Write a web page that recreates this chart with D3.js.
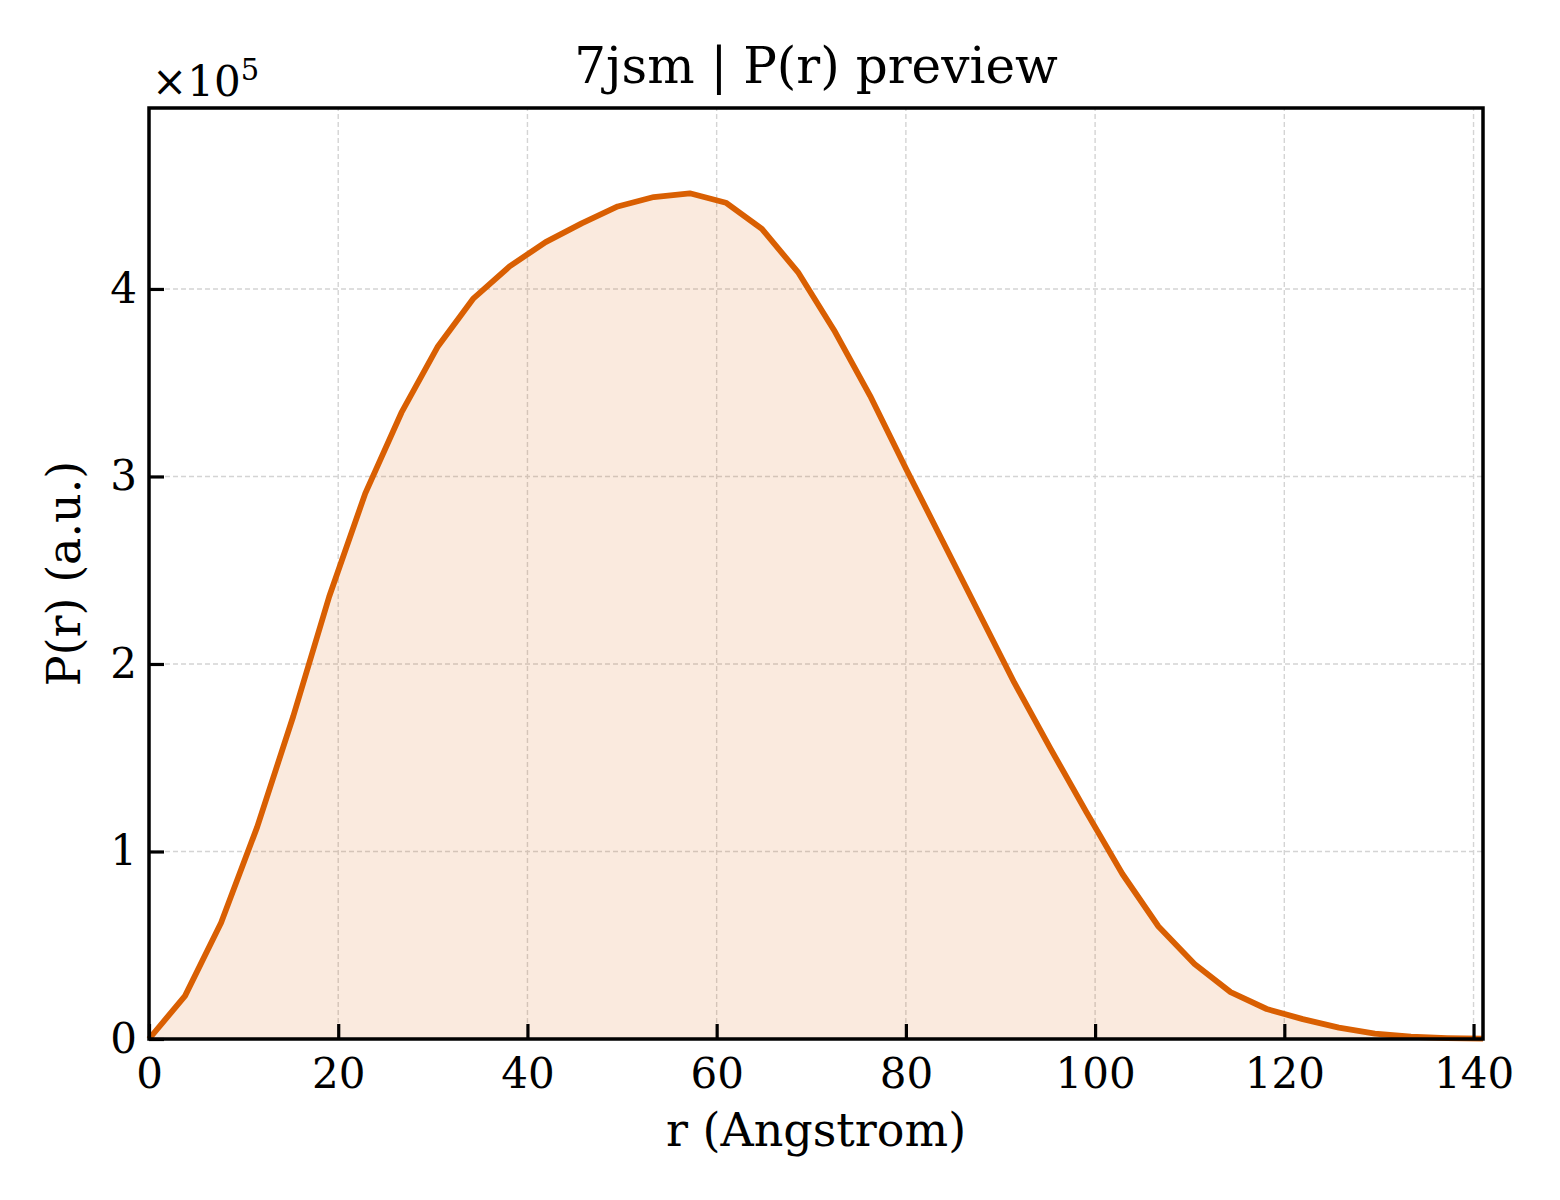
<!DOCTYPE html>
<html>
<head>
<meta charset="utf-8">
<script src="https://cdn.jsdelivr.net/npm/d3@7"></script>
<style>
  body { margin: 0; background: #fff; }
  svg { display: block; font-family: "DejaVu Serif", serif; }
</style>
</head>
<body>
<svg id="chart" width="1560" height="1200"></svg>
<script>
// P(r) curve (r in Angstrom, P in units of 1e5)
const rValues = [0, 3.81, 7.62, 11.43, 15.24, 19.05, 22.86, 26.68, 30.49, 34.30,
  38.11, 41.92, 45.73, 49.54, 53.35, 57.16, 60.97, 64.78, 68.59, 72.41,
  76.22, 80.03, 83.84, 87.65, 91.46, 95.27, 99.08, 102.89, 106.70, 110.51,
  114.32, 118.14, 121.95, 125.76, 129.57, 133.38, 137.19, 141.0];
const pValues = [0, 0.23, 0.62, 1.13, 1.72, 2.36, 2.91, 3.34, 3.69, 3.95,
  4.12, 4.25, 4.35, 4.44, 4.49, 4.51, 4.46, 4.32, 4.09, 3.78,
  3.43, 3.04, 2.66, 2.28, 1.90, 1.55, 1.21, 0.88, 0.60, 0.40,
  0.25, 0.16, 0.106, 0.061, 0.029, 0.012, 0.005, 0.002];
const xTicks = [0, 20, 40, 60, 80, 100, 120, 140];
const yTicks = [0, 1, 2, 3, 4];

const d3 = window.d3;
const svg = d3.select("#chart");
const W = 1560, H = 1200;
const margin = { top: 108, right: 77, bottom: 161, left: 149 };
const color = "#d95f02";

const points = rValues.map((r, i) => ({ r, p: pValues[i] }));

const x = d3.scaleLinear().domain([0, 141]).range([margin.left, W - margin.right]);
const y = d3.scaleLinear().domain([0, 4.965]).range([H - margin.bottom, margin.top]);

// grid
const grid = svg.append("g").attr("stroke", "#d4d4d4").attr("stroke-width", 1.4)
  .attr("stroke-dasharray", "5,3");
grid.selectAll(".gx").data(xTicks.filter(d => d > 0)).enter().append("line")
  .attr("x1", d => x(d)).attr("x2", d => x(d))
  .attr("y1", y.range()[0]).attr("y2", y.range()[1]);
grid.selectAll(".gy").data(yTicks.filter(d => d > 0)).enter().append("line")
  .attr("x1", x.range()[0]).attr("x2", x.range()[1])
  .attr("y1", d => y(d)).attr("y2", d => y(d));

// fill + line
svg.append("path").datum(points)
  .attr("fill", color).attr("fill-opacity", 0.13)
  .attr("d", d3.area().x(d => x(d.r)).y0(y(0)).y1(d => y(d.p)));

svg.append("path").datum(points)
  .attr("fill", "none").attr("stroke", color).attr("stroke-width", 5.8)
  .attr("stroke-linejoin", "round")
  .attr("d", d3.line().x(d => x(d.r)).y(d => y(d.p)));

// axes (ticks point inward)
const fontSize = 42;
const xAxis = svg.append("g")
  .attr("transform", `translate(0,${H - margin.bottom})`)
  .call(d3.axisBottom(x).tickValues(xTicks).tickSizeInner(-15).tickSizeOuter(0).tickPadding(19));
const yAxis = svg.append("g")
  .attr("transform", `translate(${margin.left},0)`)
  .call(d3.axisLeft(y).tickValues(yTicks).tickFormat(d3.format("d")).tickSizeInner(-15).tickSizeOuter(0).tickPadding(12));

[xAxis, yAxis].forEach(a => {
  a.select(".domain").remove();
  a.selectAll(".tick line").attr("stroke", "#000").attr("stroke-width", 3.2);
  a.selectAll(".tick text").attr("fill", "#000")
    .style("font-size", fontSize + "px").style("font-family", "DejaVu Serif");
});

// frame
svg.append("rect")
  .attr("x", margin.left).attr("y", margin.top)
  .attr("width", W - margin.left - margin.right)
  .attr("height", H - margin.top - margin.bottom)
  .attr("fill", "none").attr("stroke", "#000").attr("stroke-width", 3.5);

// offset text
const off = svg.append("text").attr("x", 152).attr("y", 96)
  .style("font-size", fontSize + "px");
off.append("tspan").text("×10");
off.append("tspan").attr("dy", -16).style("font-size", "29px").text("5");

// title and labels
svg.append("text").attr("x", (margin.left + W - margin.right) / 2).attr("y", 83)
  .attr("text-anchor", "middle").style("font-size", "50px")
  .text("7jsm | P(r) preview");

svg.append("text").attr("x", (margin.left + W - margin.right) / 2).attr("y", 1146)
  .attr("text-anchor", "middle").style("font-size", "46px")
  .text("r (Angstrom)");

svg.append("text")
  .attr("transform", `translate(80,${(margin.top + H - margin.bottom) / 2}) rotate(-90)`)
  .attr("text-anchor", "middle").style("font-size", "46px")
  .text("P(r) (a.u.)");
</script>
</body>
</html>
